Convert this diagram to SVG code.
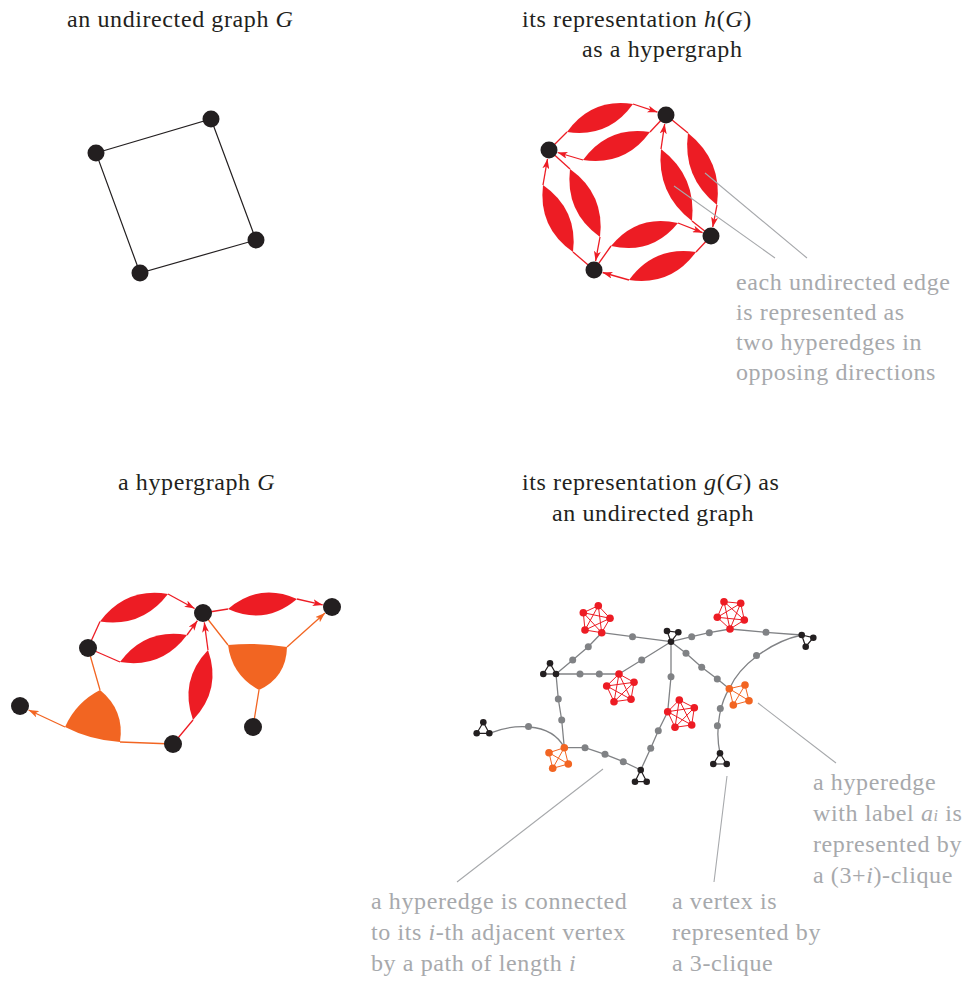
<svg xmlns="http://www.w3.org/2000/svg" width="968" height="981" viewBox="0 0 968 981">
<style>
.node{fill:#231f20}
.edge{stroke:#231f20;stroke-width:1.2;fill:none}
.rl{stroke:#ed1c24;stroke-width:1.3;fill:none}
.rf{fill:#ed1c24}
.ol{stroke:#f26522;stroke-width:1.3;fill:none}
.of{fill:#f26522}
.gl{stroke:#808285;stroke-width:1.3;fill:none}
.gd{fill:#808285}
.rc{stroke:#ed1c24;stroke-width:1}
.oc{stroke:#f26522;stroke-width:1}
.kc{stroke:#231f20;stroke-width:1.2;fill:none}
.ann{stroke:#a7a9ac;stroke-width:1.1;fill:none}
.t{font-family:"Liberation Serif",serif;font-size:24px;letter-spacing:0.6px;fill:#231f20}
.tg{font-family:"Liberation Serif",serif;font-size:24px;letter-spacing:0.6px;fill:#a7a9ac}
.i{font-style:italic}
</style>
<defs>
<marker id="arR" viewBox="0 0 10 7" markerWidth="10" markerHeight="7" refX="10" refY="3.5" orient="auto" markerUnits="userSpaceOnUse"><path d="M0,0 L10,3.5 L0,7 L2.5,3.5 Z" fill="#ed1c24"/></marker>
<marker id="arO" viewBox="0 0 10 7" markerWidth="10" markerHeight="7" refX="10" refY="3.5" orient="auto" markerUnits="userSpaceOnUse"><path d="M0,0 L10,3.5 L0,7 L2.5,3.5 Z" fill="#f26522"/></marker>
</defs>

<!-- titles -->
<text class="t" x="67" y="27">an undirected graph <tspan class="i">G</tspan></text>
<text class="t" x="522" y="27">its representation <tspan class="i">h</tspan>(<tspan class="i">G</tspan>)</text>
<text class="t" x="582" y="57">as a hypergraph</text>
<text class="t" x="118" y="490">a hypergraph <tspan class="i">G</tspan></text>
<text class="t" x="522" y="490">its representation <tspan class="i">g</tspan>(<tspan class="i">G</tspan>) as</text>
<text class="t" x="552" y="521">an undirected graph</text>

<!-- top-left undirected graph -->
<g id="connectors-g1">
<path class="edge" d="M96,153 L211,119 L256,240 L140,273 Z"/>
</g>
<g id="g1-v1"><circle class="node" cx="96" cy="153" r="8.5"/></g>
<g id="g1-v2"><circle class="node" cx="211" cy="119" r="8.5"/></g>
<g id="g1-v3"><circle class="node" cx="256" cy="240" r="8.5"/></g>
<g id="g1-v4"><circle class="node" cx="140" cy="273" r="8.5"/></g>

<!-- top-right hypergraph h(G) -->
<g id="connectors-h">
<g id="h-e1o"><path class="rl" d="M549,150 L567,132"/><path class="rf" d="M567,132 Q608.6,138.2 633,104 Q591.4,97.8 567,132 Z"/><path class="rl" d="M633,104 L657.5,112.2" marker-end="url(#arR)"/></g>
<g id="h-e1i"><path class="rl" d="M666,115 L650,132"/><path class="rf" d="M650,132 Q625,166.3 583,160 Q608,125.7 650,132 Z"/><path class="rl" d="M583,160 L557.6,152.5" marker-end="url(#arR)"/></g>
<g id="h-e2o"><path class="rl" d="M666,115 L688,133"/><path class="rf" d="M688,133 Q722.9,160.8 717,205 Q682.1,177.2 688,133 Z"/><path class="rl" d="M717,205 L712.7,227.2" marker-end="url(#arR)"/></g>
<g id="h-e2i"><path class="rl" d="M711,236 L692,221"/><path class="rf" d="M692,221 Q696.7,176.3 661,149 Q656.3,193.7 692,221 Z"/><path class="rl" d="M661,149 L664.7,123.9" marker-end="url(#arR)"/></g>
<g id="h-e3o"><path class="rl" d="M711,236 L696,252"/><path class="rf" d="M696,252 Q671,286.3 629,280 Q654,245.7 696,252 Z"/><path class="rl" d="M629,280 L602.6,272.5" marker-end="url(#arR)"/></g>
<g id="h-e3i"><path class="rl" d="M594,270 L611,246"/><path class="rf" d="M611,246 Q651.7,255.3 678,223 Q637.3,213.7 611,246 Z"/><path class="rl" d="M678,223 L702.6,232.7" marker-end="url(#arR)"/></g>
<g id="h-e4o"><path class="rl" d="M594,270 L573,252"/><path class="rf" d="M573,252 Q578.1,209.5 543,185 Q537.9,227.5 573,252 Z"/><path class="rl" d="M543,185 L547.5,158.9" marker-end="url(#arR)"/></g>
<g id="h-e4i"><path class="rl" d="M549,150 L570,169"/><path class="rf" d="M570,169 Q605.1,194.1 600,237 Q564.9,211.9 570,169 Z"/><path class="rl" d="M600,237 L595.6,261.1" marker-end="url(#arR)"/></g>
</g>
<g id="h-v1"><circle class="node" cx="549" cy="150" r="8.5"/></g>
<g id="h-v2"><circle class="node" cx="666" cy="115" r="8.5"/></g>
<g id="h-v3"><circle class="node" cx="711" cy="236" r="8.5"/></g>
<g id="h-v4"><circle class="node" cx="594" cy="270" r="8.5"/></g>

<!-- bottom-left hypergraph G -->
<g id="connectors-hg">
<g id="hg-a"><path class="rl" d="M88,648 L100,621.5"/><path class="rf" d="M100,621.5 Q142.1,627.9 168,594 Q125.9,587.1 100,621.5 Z"/><path class="rl" d="M168,594 L194.6,608.5" marker-end="url(#arR)"/></g>
<g id="hg-b"><path class="rl" d="M88,648 L120,662"/><path class="rf" d="M120,662 Q161.7,668.9 187,635 Q145.3,628.1 120,662 Z"/><path class="rl" d="M187,635 L197.4,620.7" marker-end="url(#arR)"/></g>
<g id="hg-c"><path class="rl" d="M173,744 L193,720"/><path class="rf" d="M193,720 Q222,689.6 208,650 Q179,680.4 193,720 Z"/><path class="rl" d="M208,650 L204.3,622.4" marker-end="url(#arR)"/></g>
<g id="hg-d"><path class="rl" d="M203,613 L228,609"/><path class="rf" d="M228,609 Q265.6,625.8 297,599 Q259.4,582.2 228,609 Z"/><path class="rl" d="M297,599 L322.7,604.9" marker-end="url(#arR)"/></g>
<g id="hg-e"><path class="ol" d="M88,648 L100,690 M173,744 L120,742"/><path class="of" d="M100,690 Q76,702.3 65,727 Q90.9,740.3 120,742 Q124.9,710.3 100,690 Z"/><path class="ol" d="M65,727 L28.6,710" marker-end="url(#arO)"/></g>
<g id="hg-f"><path class="ol" d="M203,613 L228,645 M253,727 L259,690"/><path class="of" d="M228,645 Q257.5,642 287,647 Q286.4,677.2 259,690 Q232,675.5 228,645 Z"/><path class="ol" d="M287,647 L325,613" marker-end="url(#arO)"/></g>
</g>
<g id="hg-v1"><circle class="node" cx="203" cy="613" r="9"/></g>
<g id="hg-v2"><circle class="node" cx="332" cy="607" r="9"/></g>
<g id="hg-v3"><circle class="node" cx="88" cy="648" r="9"/></g>
<g id="hg-v4"><circle class="node" cx="20" cy="706" r="9"/></g>
<g id="hg-v5"><circle class="node" cx="173" cy="744" r="9"/></g>
<g id="hg-v6"><circle class="node" cx="253" cy="727" r="9"/></g>

<!-- bottom-right graph g(G) -->
<g id="connectors-gg">
<path class="gl" d="M601.7,632.7 L632.5,636.7 L671,641.7"/>
<path class="gl" d="M671,641.7 L641.7,660 L619,674"/>
<path class="gl" d="M671,641.7 L671,676.7 L667.7,711.7"/>
<path class="gl" d="M671,641.7 L686,653.3 L701.7,667.3 L717.3,679 L729.3,688.7"/>
<path class="gl" d="M671,641.7 L691.7,636.7 L709.3,632.7 L730,629"/>
<path class="gl" d="M730,629 L766,632.3 L801.7,635"/>
<path class="gl" d="M801.7,635 C770,642 740,665 729.3,688.7"/>
<path class="gl" d="M729.3,688.7 C722,700 714,725 720,753.3"/>
<path class="gl" d="M667.7,711.7 L658.3,730.7 L650.7,748.3 L640.7,770"/>
<path class="gl" d="M564.3,747.7 L585,747.7 L605,754.3 L623.3,761.7 L640.7,770"/>
<path class="gl" d="M556,674 L580,674 L599.3,674 L619,674"/>
<path class="gl" d="M556,674 L572.7,660 L588.3,646.7 L601.7,632.7"/>
<path class="gl" d="M556,674 L558.3,699 L561.7,720 L564.3,747.7"/>
<path class="gl" d="M489.3,733.3 C510,725 550,720 564.3,747.7"/>
<g id="gg-path-dots">
<circle class="gd" cx="632.5" cy="636.7" r="3.5"/>
<circle class="gd" cx="641.7" cy="660" r="3.5"/>
<circle class="gd" cx="671" cy="676.7" r="3.5"/>
<circle class="gd" cx="686" cy="653.3" r="3.5"/>
<circle class="gd" cx="701.7" cy="667.3" r="3.5"/>
<circle class="gd" cx="717.3" cy="679" r="3.5"/>
<circle class="gd" cx="691.7" cy="636.7" r="3.5"/>
<circle class="gd" cx="709.3" cy="632.7" r="3.5"/>
<circle class="gd" cx="766" cy="632.3" r="3.5"/>
<circle class="gd" cx="756.5" cy="655.5" r="3.5"/>
<circle class="gd" cx="720.3" cy="708.5" r="3.5"/>
<circle class="gd" cx="717.4" cy="725.8" r="3.5"/>
<circle class="gd" cx="658.3" cy="730.7" r="3.5"/>
<circle class="gd" cx="650.7" cy="748.3" r="3.5"/>
<circle class="gd" cx="585" cy="747.7" r="3.5"/>
<circle class="gd" cx="605" cy="754.3" r="3.5"/>
<circle class="gd" cx="623.3" cy="761.7" r="3.5"/>
<circle class="gd" cx="580" cy="674" r="3.5"/>
<circle class="gd" cx="599.3" cy="674" r="3.5"/>
<circle class="gd" cx="572.7" cy="660" r="3.5"/>
<circle class="gd" cx="588.3" cy="646.7" r="3.5"/>
<circle class="gd" cx="558.3" cy="699" r="3.5"/>
<circle class="gd" cx="561.7" cy="720" r="3.5"/>
<circle class="gd" cx="528.5" cy="726.5" r="3.5"/>
</g>
</g>

<g id="gg-P1">
<path class="rc" d="M598.3,605.7L610,618.3L601.7,632.7L585,630L583.3,612.7Z M598.3,605.7L601.7,632.7 M598.3,605.7L585,630 M610,618.3L585,630 M610,618.3L583.3,612.7 M601.7,632.7L583.3,612.7" fill="none"/>
<g class="rf"><circle cx="598.3" cy="605.7" r="3.8"/><circle cx="610" cy="618.3" r="3.8"/><circle cx="601.7" cy="632.7" r="3.8"/><circle cx="585" cy="630" r="3.8"/><circle cx="583.3" cy="612.7" r="3.8"/></g>
</g>
<g id="gg-P2">
<path class="rc" d="M619,674L634,682.3L631,699.3L614,701.7L606.7,686Z M619,674L631,699.3 M619,674L614,701.7 M634,682.3L614,701.7 M634,682.3L606.7,686 M631,699.3L606.7,686" fill="none"/>
<g class="rf"><circle cx="619" cy="674" r="3.8"/><circle cx="634" cy="682.3" r="3.8"/><circle cx="631" cy="699.3" r="3.8"/><circle cx="614" cy="701.7" r="3.8"/><circle cx="606.7" cy="686" r="3.8"/></g>
</g>
<g id="gg-P3">
<path class="rc" d="M679.3,700L694.3,707.7L691.7,725L675,727.3L667.7,711.7Z M679.3,700L691.7,725 M679.3,700L675,727.3 M694.3,707.7L675,727.3 M694.3,707.7L667.7,711.7 M691.7,725L667.7,711.7" fill="none"/>
<g class="rf"><circle cx="679.3" cy="700" r="3.8"/><circle cx="694.3" cy="707.7" r="3.8"/><circle cx="691.7" cy="725" r="3.8"/><circle cx="675" cy="727.3" r="3.8"/><circle cx="667.7" cy="711.7" r="3.8"/></g>
</g>
<g id="gg-P4">
<path class="rc" d="M724,601.7L740.7,603.3L744.3,620L730,629L717.3,617.3Z M724,601.7L744.3,620 M724,601.7L730,629 M740.7,603.3L730,629 M740.7,603.3L717.3,617.3 M744.3,620L717.3,617.3" fill="none"/>
<g class="rf"><circle cx="724" cy="601.7" r="3.8"/><circle cx="740.7" cy="603.3" r="3.8"/><circle cx="744.3" cy="620" r="3.8"/><circle cx="730" cy="629" r="3.8"/><circle cx="717.3" cy="617.3" r="3.8"/></g>
</g>
<g id="gg-O1">
<path class="oc" d="M564.3,747.7L568.3,764L552.7,768.3L549,752.7Z M564.3,747.7L552.7,768.3 M568.3,764L549,752.7" fill="none"/>
<g class="of"><circle cx="564.3" cy="747.7" r="3.8"/><circle cx="568.3" cy="764" r="3.8"/><circle cx="552.7" cy="768.3" r="3.8"/><circle cx="549" cy="752.7" r="3.8"/></g>
</g>
<g id="gg-O2">
<path class="oc" d="M729.3,688.7L745,685L749,700.7L733.3,705Z M729.3,688.7L749,700.7 M745,685L733.3,705" fill="none"/>
<g class="of"><circle cx="729.3" cy="688.7" r="3.8"/><circle cx="745" cy="685" r="3.8"/><circle cx="749" cy="700.7" r="3.8"/><circle cx="733.3" cy="705" r="3.8"/></g>
</g>
<g id="gg-T1"><path class="kc" d="M667,631L678.3,632.3L671,641.7Z"/><g class="node"><circle cx="667" cy="631" r="3.3"/><circle cx="678.3" cy="632.3" r="3.3"/><circle cx="671" cy="641.7" r="3.3"/></g></g>
<g id="gg-T2"><path class="kc" d="M801.7,635L813.3,637.7L805.7,646.7Z"/><g class="node"><circle cx="801.7" cy="635" r="3.3"/><circle cx="813.3" cy="637.7" r="3.3"/><circle cx="805.7" cy="646.7" r="3.3"/></g></g>
<g id="gg-T3"><path class="kc" d="M720,753.3L713.3,764L726.7,764Z"/><g class="node"><circle cx="720" cy="753.3" r="3.3"/><circle cx="713.3" cy="764" r="3.3"/><circle cx="726.7" cy="764" r="3.3"/></g></g>
<g id="gg-T4"><path class="kc" d="M640.7,770L635,781.7L646.7,781.7Z"/><g class="node"><circle cx="640.7" cy="770" r="3.3"/><circle cx="635" cy="781.7" r="3.3"/><circle cx="646.7" cy="781.7" r="3.3"/></g></g>
<g id="gg-T5"><path class="kc" d="M550,663.3L543.3,674L556,674Z"/><g class="node"><circle cx="550" cy="663.3" r="3.3"/><circle cx="543.3" cy="674" r="3.3"/><circle cx="556" cy="674" r="3.3"/></g></g>
<g id="gg-T6"><path class="kc" d="M483.3,722.3L476.7,733.3L489.3,733.3Z"/><g class="node"><circle cx="483.3" cy="722.3" r="3.3"/><circle cx="476.7" cy="733.3" r="3.3"/><circle cx="489.3" cy="733.3" r="3.3"/></g></g>

<!-- annotations (drawn on top) -->
<g id="annotations">
<path class="ann" d="M705,173 L807,258 M674,186 L775,258"/>
<path class="ann" d="M603,769 L457,882 M727,776 L714,882 M758,703 L836,763"/>
<text class="tg" x="736" y="290">each undirected edge</text>
<text class="tg" x="736" y="320">is represented as</text>
<text class="tg" x="736" y="350">two hyperedges in</text>
<text class="tg" x="736" y="380">opposing directions</text>
<text class="tg" x="371" y="909">a hyperedge is connected</text>
<text class="tg" x="371" y="940">to its <tspan class="i">i</tspan>-th adjacent vertex</text>
<text class="tg" x="371" y="971">by a path of length <tspan class="i">i</tspan></text>
<text class="tg" x="672" y="909">a vertex is</text>
<text class="tg" x="672" y="940">represented by</text>
<text class="tg" x="672" y="971">a 3-clique</text>
<text class="tg" x="813" y="790">a hyperedge</text>
<text class="tg" x="813" y="821">with label <tspan class="i">a</tspan><tspan class="i" font-size="16px">i</tspan> is</text>
<text class="tg" x="813" y="852">represented by</text>
<text class="tg" x="813" y="883">a (3+<tspan class="i">i</tspan>)-clique</text>
</g>
</svg>
